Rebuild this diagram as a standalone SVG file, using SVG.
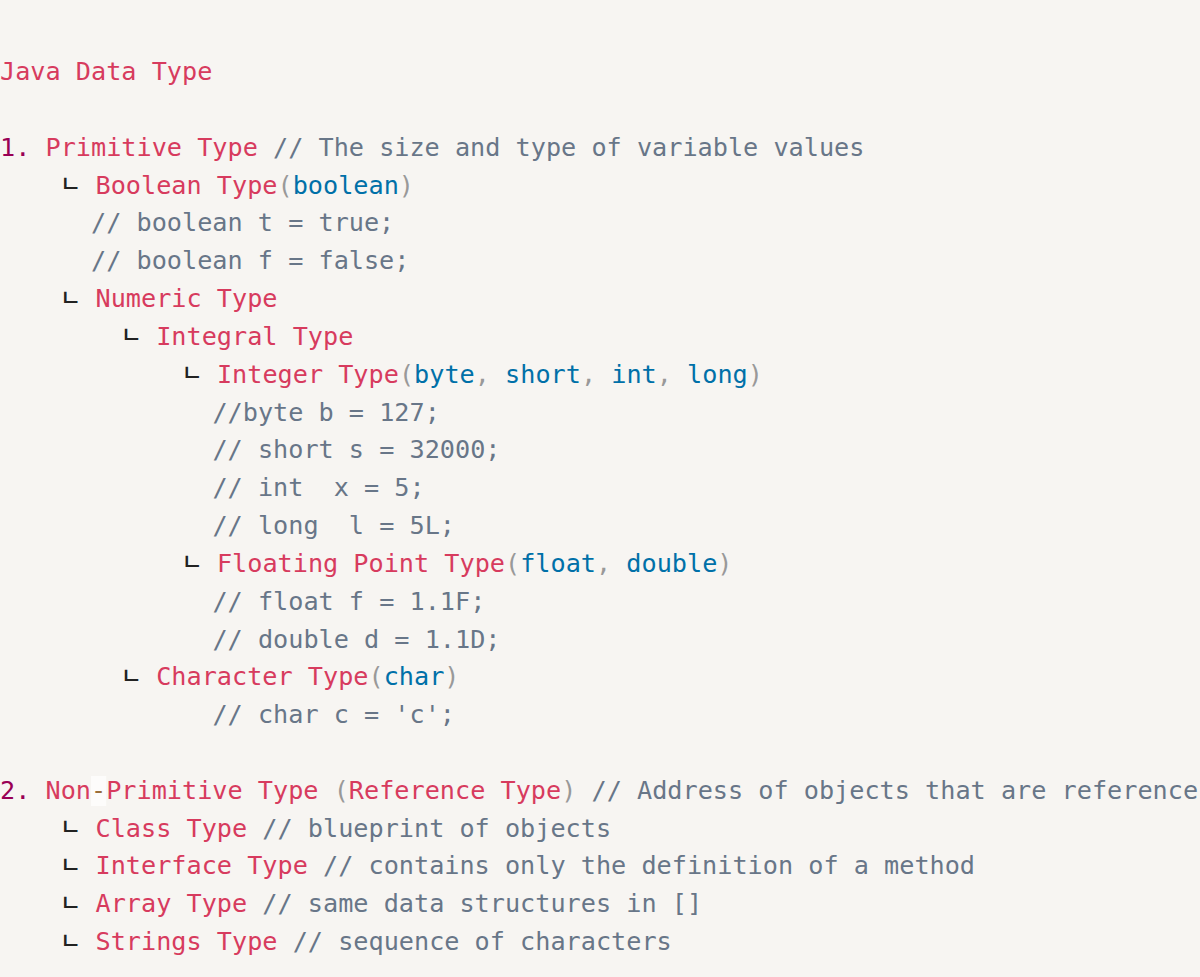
<svg xmlns="http://www.w3.org/2000/svg" width="1200" height="977" viewBox="0 0 1200 977">
<style>
text{font-family:"DejaVu Sans Mono",monospace;font-size:25.2px;white-space:pre}
.r{fill:#d73b5e}.b{fill:#0070a8}.p{fill:#999999}.c{fill:#687688}.n{fill:#990055}.o{fill:#9a6e3a}
.t{font-family:"Noto Sans CJK KR",sans-serif;font-size:23px;font-weight:500;fill:#222222}
</style>
<rect width="1200" height="977" fill="#f7f5f2"/>
<g id="title"><text x="0" y="80" class="r">Java Data Type</text></g>
<g id="primitive">
<text x="0" y="155.7" xml:space="preserve"><tspan class="n">1.</tspan><tspan class="r"> Primitive Type</tspan><tspan class="c"> // The size and type of variable values</tspan></text>
</g>
<g id="boolean">
<text x="60" y="192" class="t">ㄴ</text>
<text x="95.5" y="193.5"><tspan class="r">Boolean Type</tspan><tspan class="p">(</tspan><tspan class="b">boolean</tspan><tspan class="p">)</tspan></text>
<text x="91" y="231.3" class="c" xml:space="preserve">// boolean t = true;</text>
<text x="91" y="269.2" class="c" xml:space="preserve">// boolean f = false;</text>
</g>
<g id="numeric">
<text x="60" y="305.5" class="t">ㄴ</text>
<text x="95.5" y="307" class="r">Numeric Type</text>
</g>
<g id="integral">
<text x="120.7" y="343.3" class="t">ㄴ</text>
<text x="156.2" y="344.8" class="r">Integral Type</text>
</g>
<g id="integer">
<text x="181.4" y="381.1" class="t">ㄴ</text>
<text x="216.9" y="382.6" xml:space="preserve"><tspan class="r">Integer Type</tspan><tspan class="p">(</tspan><tspan class="b">byte</tspan><tspan class="p">, </tspan><tspan class="b">short</tspan><tspan class="p">, </tspan><tspan class="b">int</tspan><tspan class="p">, </tspan><tspan class="b">long</tspan><tspan class="p">)</tspan></text>
<text x="212.4" y="420.5" class="c" xml:space="preserve">//byte b = 127;</text>
<text x="212.4" y="458.3" class="c" xml:space="preserve">// short s = 32000;</text>
<text x="212.4" y="496.1" class="c" xml:space="preserve">// int  x = 5;</text>
<text x="212.4" y="534" class="c" xml:space="preserve">// long  l = 5L;</text>
</g>
<g id="floating">
<text x="181.4" y="570.3" class="t">ㄴ</text>
<text x="216.9" y="571.8" xml:space="preserve"><tspan class="r">Floating Point Type</tspan><tspan class="p">(</tspan><tspan class="b">float</tspan><tspan class="p">, </tspan><tspan class="b">double</tspan><tspan class="p">)</tspan></text>
<text x="212.4" y="609.6" class="c" xml:space="preserve">// float f = 1.1F;</text>
<text x="212.4" y="647.5" class="c" xml:space="preserve">// double d = 1.1D;</text>
</g>
<g id="character">
<text x="120.7" y="683.8" class="t">ㄴ</text>
<text x="156.2" y="685.3"><tspan class="r">Character Type</tspan><tspan class="p">(</tspan><tspan class="b">char</tspan><tspan class="p">)</tspan></text>
<text x="212.4" y="723.1" class="c" xml:space="preserve">// char c = 'c';</text>
</g>
<g id="nonprimitive">
<rect x="91" y="776" width="15.2" height="30" fill="#fdfcfb"/>
<text x="0" y="798.8" xml:space="preserve"><tspan class="n">2.</tspan><tspan class="r"> Non</tspan><tspan class="o">-</tspan><tspan class="r">Primitive Type</tspan><tspan class="p"> (</tspan><tspan class="r">Reference Type</tspan><tspan class="p">)</tspan><tspan class="c"> // Address of objects that are reference</tspan></text>
</g>
<g id="class">
<text x="60" y="835.1" class="t">ㄴ</text>
<text x="95.5" y="836.6" xml:space="preserve"><tspan class="r">Class Type</tspan><tspan class="c"> // blueprint of objects</tspan></text>
</g>
<g id="interface">
<text x="60" y="872.9" class="t">ㄴ</text>
<text x="95.5" y="874.4" xml:space="preserve"><tspan class="r">Interface Type</tspan><tspan class="c"> // contains only the definition of a method</tspan></text>
</g>
<g id="array">
<text x="60" y="910.8" class="t">ㄴ</text>
<text x="95.5" y="912.3" xml:space="preserve"><tspan class="r">Array Type</tspan><tspan class="c"> // same data structures in []</tspan></text>
</g>
<g id="strings">
<text x="60" y="948.6" class="t">ㄴ</text>
<text x="95.5" y="950.1" xml:space="preserve"><tspan class="r">Strings Type</tspan><tspan class="c"> // sequence of characters</tspan></text>
</g>
</svg>
